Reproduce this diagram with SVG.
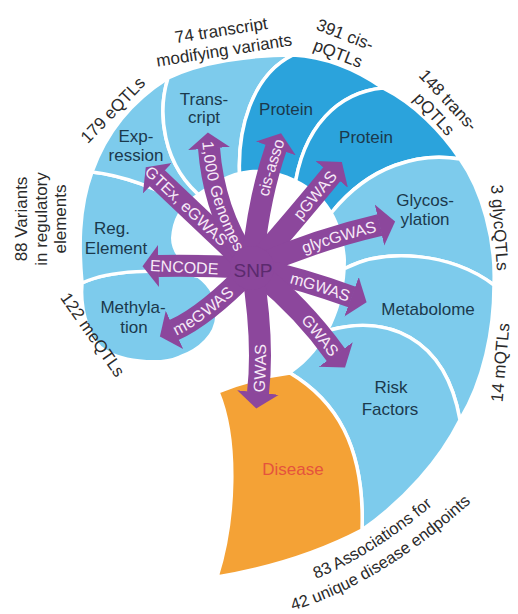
<svg xmlns="http://www.w3.org/2000/svg" width="518" height="614" viewBox="0 0 518 614">
<defs>
<style>
.lb{fill:#7DCBEC;stroke:#fff;stroke-width:3.5;stroke-linejoin:round}
.db{fill:#2BA3DC;stroke:#fff;stroke-width:3.5;stroke-linejoin:round}
.or{fill:#F4A236;stroke:#fff;stroke-width:3.5;stroke-linejoin:round}
.lbl{font-family:"Liberation Sans",Arial,sans-serif;font-size:17px;fill:#1B394C;text-anchor:middle}
.ann{font-family:"Liberation Sans",Arial,sans-serif;font-size:17px;fill:#2A2A2A;text-anchor:middle}
.band{fill:none;stroke:#8C479C;stroke-width:22;marker-end:url(#ah)}
.at{font-family:"Liberation Sans",Arial,sans-serif;font-size:16px;fill:#F7EAF7;dominant-baseline:central}
.tp{fill:none}
</style>
<marker id="ah" markerUnits="userSpaceOnUse" markerWidth="20" markerHeight="46" viewBox="0 -23 20 46" refX="0.5" refY="0" orient="auto">
<path d="M0,-21 L16,0 L0,21 Z" fill="#8C479C"/>
</marker>
<path id="t1" class="tp" d="M 150,265 L 228,269"/>
<path id="t2" class="tp" d="M 145,166 L 252,268"/>
<path id="t3" class="tp" d="M 208,138 Q 214,212 252,268"/>
<path id="t4" class="tp" d="M 252,268 Q 258,200 276,148 L 283,128"/>
<path id="t5" class="tp" d="M 252,268 Q 290,225 332,174 L 345,158"/>
<path id="t6" class="tp" d="M 252,268 Q 315,240 380,225 L 396,221"/>
<path id="t7" class="tp" d="M 252,268 Q 300,278 352,297 L 367,302"/>
<path id="t8" class="tp" d="M 252,268 Q 300,305 336,355 L 345,368"/>
<path id="t9" class="tp" d="M 258,393 Q 264,340 252,268"/>
<path id="t10" class="tp" d="M 172,331 Q 207,315 252,268"/>
<path id="b1" class="tp" d="M 287,589 Q 367,566 456,485"/>
<path id="b2" class="tp" d="M 284,613 Q 378,588 478,496"/>
</defs>

<rect x="0" y="0" width="518" height="614" fill="#fff"/>

<g id="methylation">
<path class="lb" d="M 82,283 C 80,305 86,333 100,347 C 118,362 160,366 180,357 C 200,350 216,335 217,316 C 218,300 212,286 198,276 C 160,268 110,270 82,283 Z"/>
<text class="lbl" x="133" y="313">Methyla-</text>
<text class="lbl" x="134" y="333">tion</text>
</g>
<g id="reg-element">
<path class="lb" d="M 82,283 C 79,250 78,210 92,172 C 120,175 160,188 190,208 L 230,250 L 198,276 C 160,268 110,270 82,283 Z"/>
<text class="lbl" x="112" y="234">Reg.</text>
<text class="lbl" x="116" y="254">Element</text>
</g>
<g id="expression">
<path class="lb" d="M 92,172 C 105,135 130,102 168,78 C 158,110 160,165 205,200 L 240,250 L 190,208 C 160,188 120,175 92,172 Z"/>
<text class="lbl" x="136" y="142">Exp-</text>
<text class="lbl" x="136" y="161">ression</text>
</g>
<g id="transcript">
<path class="lb" d="M 168,78 C 200,62 250,55 293,55 C 252,75 236,130 240,182 L 245,250 L 205,200 C 160,165 158,110 168,78 Z"/>
<text class="lbl" x="204" y="105">Trans-</text>
<text class="lbl" x="204" y="123">cript</text>
</g>
<g id="protein-cis">
<path class="db" d="M 293,55 C 330,57 360,72 383,88 C 340,92 302,125 294,192 L 250,250 L 240,182 C 236,130 252,75 293,55 Z"/>
<text class="lbl" x="286" y="115">Protein</text>
</g>
<g id="protein-trans">
<path class="db" d="M 383,88 C 415,104 442,132 460,159 C 420,152 370,165 332,212 L 260,250 L 294,192 C 302,125 340,92 383,88 Z"/>
<text class="lbl" x="366" y="143">Protein</text>
</g>
<g id="glycosylation">
<path class="lb" d="M 460,159 C 482,190 496,240 494,285 C 450,252 385,248 346,268 L 260,260 L 332,212 C 370,165 420,152 460,159 Z"/>
<text class="lbl" x="425" y="206">Glycos-</text>
<text class="lbl" x="425" y="225">ylation</text>
</g>
<g id="metabolome">
<path class="lb" d="M 494,285 C 494,330 484,380 460,420 C 445,335 385,315 330,330 L 260,270 L 346,268 C 385,248 450,252 494,285 Z"/>
<text class="lbl" x="428" y="315">Metabolome</text>
</g>
<g id="risk-factors">
<path class="lb" d="M 460,420 C 440,460 405,500 362,530 C 365,445 335,400 290,373 L 260,280 L 330,330 C 385,315 445,335 460,420 Z"/>
<text class="lbl" x="391" y="393">Risk</text>
<text class="lbl" x="390" y="415">Factors</text>
</g>
<g id="disease">
<path class="or" d="M 218,392 Q 252,378 290,373 C 335,400 365,445 362,530 C 320,552 270,568 217,577 C 235,520 238,440 218,392 Z"/>
<text class="lbl" x="293" y="475" style="fill:#E5533D">Disease</text>
</g>

<path id="center-space" fill="#fff" d="M 180,357 C 200,350 216,335 217,316 C 218,300 212,286 198,276 C 185,266 171,255 171,238 C 172,220 180,205 195,195 C 212,183 228,172 250,170 C 272,168 296,176 316,192 C 335,208 345,235 346,260 C 346,285 341,305 332,325 C 322,345 308,362 292,373 Q 252,378 218,392 L 195,372 Z"/>

<g id="connectors">
<path class="band" d="M 252,268 Q 200,265 158,266"/>
<path class="band" d="M 252,268 L 157,178"/>
<path class="band" d="M 252,268 Q 214,215 209,148"/>
<path class="band" d="M 252,268 Q 258,200 276,148"/>
<path class="band" d="M 252,268 Q 290,225 332,174"/>
<path class="band" d="M 252,268 Q 315,240 380,225"/>
<path class="band" d="M 252,268 Q 300,278 352,297"/>
<path class="band" d="M 252,268 Q 300,305 336,355"/>
<path class="band" d="M 252,268 Q 264,340 258,393"/>
<path class="band" d="M 252,268 Q 207,315 174,330"/>
<text class="at"><textPath href="#t1" startOffset="0">ENCODE</textPath></text>
<text class="at"><textPath href="#t2" startOffset="4">GTEx, eGWAS</textPath></text>
<text class="at"><textPath href="#t3" startOffset="3">1,000 Genomes</textPath></text>
<text class="at"><textPath href="#t4" startOffset="73">cis-asso</textPath></text>
<text class="at"><textPath href="#t5" startOffset="68">pGWAS</textPath></text>
<text class="at"><textPath href="#t6" startOffset="54">glycGWAS</textPath></text>
<text class="at"><textPath href="#t7" startOffset="40">mGWAS</textPath></text>
<text class="at"><textPath href="#t8" startOffset="72">GWAS</textPath></text>
<text class="at"><textPath href="#t9" startOffset="1">GWAS</textPath></text>
<text class="at"><textPath href="#t10" startOffset="2">meGWAS</textPath></text>
</g>

<g id="snp">
<circle cx="252" cy="268" r="22" fill="#8C479C"/>
<text x="253" y="277" style="font-family:'Liberation Sans',Arial,sans-serif;font-size:19px;fill:#5B2A6E;text-anchor:middle">SNP</text>
</g>

<g id="annotations">
<text class="ann" transform="translate(117,114) rotate(-46)">179 eQTLs</text>
<text class="ann" transform="translate(222,36) rotate(-9)">74 transcript</text>
<text class="ann" transform="translate(225,56) rotate(-9)">modifying variants</text>
<text class="ann" transform="translate(343,40) rotate(21)">391 cis-</text>
<text class="ann" transform="translate(336,59) rotate(21)">pQTLs</text>
<text class="ann" transform="translate(444,104) rotate(47)">148 trans-</text>
<text class="ann" transform="translate(430,118) rotate(47)">pQTLs</text>
<text class="ann" transform="translate(494,228) rotate(86)">3 glycQTLs</text>
<text class="ann" transform="translate(506,363) rotate(-85)">14 mQTLs</text>
<text class="ann" transform="translate(27,219) rotate(-90)"><tspan x="0" y="0">88 Variants</tspan><tspan x="0" dy="19.5">in regulatory</tspan><tspan x="0" dy="19.5">elements</tspan></text>
<text class="ann" transform="translate(88,338) rotate(55)">122 meQTLs</text>
<text class="ann" style="font-size:16.5px"><textPath href="#b1" startOffset="50%">83 Associations for</textPath></text>
<text class="ann" style="font-size:16.5px"><textPath href="#b2" startOffset="50%">42 unique disease endpoints</textPath></text>
</g>
</svg>
